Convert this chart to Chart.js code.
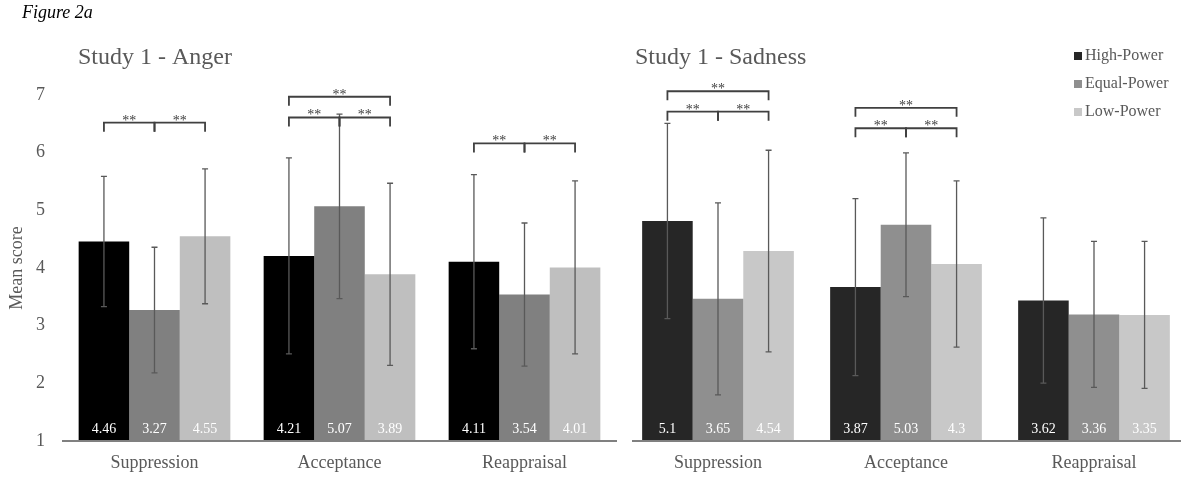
<!DOCTYPE html>
<html>
<head>
<meta charset="utf-8">
<script src="https://cdn.jsdelivr.net/npm/chart.js@4.4.1/dist/chart.umd.min.js"></script>
<style>
  html, body { margin: 0; padding: 0; background: #fff; overflow: hidden; }
  #wrap { position: relative; width: 1181px; height: 478px; overflow: hidden; }
  canvas { position: absolute; top: 0; }
</style>
</head>
<body>
<div id="wrap">
  <canvas id="anger" width="624" height="478" style="left:0px"></canvas>
  <canvas id="sadness" width="570" height="478" style="left:624px"></canvas>
</div>
<script>
const categorias = ['Suppression', 'Acceptance', 'Reappraisal'];
const grupos = ['High-Power', 'Equal-Power', 'Low-Power'];
const yTicks = [1, 2, 3, 4, 5, 6, 7];

// Study 1 - Anger
const raivaAlto = [4.46, 4.21, 4.11];
const raivaIgual = [3.27, 5.07, 3.54];
const raivaBaixo = [4.55, 3.89, 4.01];
const raivaAltoDp = [1.13, 1.70, 1.51];
const raivaIgualDp = [1.09, 1.60, 1.24];
const raivaBaixoDp = [1.17, 1.58, 1.50];

// Study 1 - Sadness
const tristezaAlto = [5.1, 3.87, 3.62];
const tristezaIgual = [3.65, 5.03, 3.36];
const tristezaBaixo = [4.54, 4.3, 3.35];
const tristezaAltoDp = [1.82, 1.65, 1.54];
const tristezaIgualDp = [1.79, 1.34, 1.36];
const tristezaBaixoDp = [1.88, 1.55, 1.37];

// brackets ** : [categoria, de, ate, nivel]
const raivaSig = [[0, 0, 1, 6.52], [0, 1, 2, 6.52], [1, 0, 1, 6.61], [1, 1, 2, 6.61], [1, 0, 2, 6.97], [2, 0, 1, 6.16], [2, 1, 2, 6.16]];
const tristezaSig = [[0, 0, 1, 7.14], [0, 1, 2, 7.14], [0, 0, 2, 7.52], [1, 0, 1, 6.83], [1, 1, 2, 6.83], [1, 0, 2, 7.21]];

const serif = "'Liberation Serif', 'Times New Roman', serif";
const cinza = '#595959';

const decoracao = {
  id: 'decoracao',
  afterDatasetsDraw(chart, args, opts) {
    const ctx = chart.ctx;
    const y = chart.scales.y;
    const area = chart.chartArea;
    const zero = y.getPixelForValue(y.min);
    ctx.save();

    // eixo x
    ctx.strokeStyle = '#808080';
    ctx.lineWidth = 2;
    ctx.beginPath();
    ctx.moveTo(area.left + opts.inicioEixo, zero);
    ctx.lineTo(area.right, zero);
    ctx.stroke();

    // barras de erro e valores
    chart.data.datasets.forEach((ds, i) => {
      const meta = chart.getDatasetMeta(i);
      meta.data.forEach((barra, j) => {
        const v = ds.data[j];
        const dp = ds.dp[j];
        const topo = y.getPixelForValue(v + dp);
        const base = y.getPixelForValue(v - dp);
        ctx.strokeStyle = cinza;
        ctx.lineWidth = 1.3;
        ctx.beginPath();
        ctx.moveTo(barra.x, topo);
        ctx.lineTo(barra.x, base);
        ctx.moveTo(barra.x - 3, topo);
        ctx.lineTo(barra.x + 3, topo);
        ctx.moveTo(barra.x - 3, base);
        ctx.lineTo(barra.x + 3, base);
        ctx.stroke();

        ctx.fillStyle = '#ffffff';
        ctx.font = '14px ' + serif;
        ctx.textAlign = 'center';
        ctx.textBaseline = 'middle';
        ctx.fillText(String(v), barra.x, zero - 12);
      });
    });

    // significancia
    opts.sig.forEach(([c, a, b, nivel]) => {
      const xa = chart.getDatasetMeta(a).data[c].x;
      const xb = chart.getDatasetMeta(b).data[c].x;
      const py = y.getPixelForValue(nivel);
      ctx.strokeStyle = '#404040';
      ctx.lineWidth = 1.8;
      ctx.beginPath();
      ctx.moveTo(xa, py + 9);
      ctx.lineTo(xa, py);
      ctx.lineTo(xb, py);
      ctx.lineTo(xb, py + 9);
      ctx.stroke();
      ctx.fillStyle = '#404040';
      ctx.font = '14px ' + serif;
      ctx.textAlign = 'center';
      ctx.textBaseline = 'alphabetic';
      ctx.fillText('**', (xa + xb) / 2, py + 2);
    });

    // titulo
    ctx.fillStyle = cinza;
    ctx.font = '24px ' + serif;
    ctx.textAlign = 'left';
    ctx.textBaseline = 'alphabetic';
    ctx.fillText(opts.titulo, opts.tituloX, 64);

    if (opts.figura) {
      ctx.fillStyle = '#000000';
      ctx.font = 'italic 18px ' + serif;
      ctx.fillText(opts.figura, 22, 18);
    }

    // legenda
    if (opts.legenda) {
      ctx.font = '16px ' + serif;
      ctx.textBaseline = 'middle';
      chart.data.datasets.forEach((ds, i) => {
        const ly = 56 + i * 28;
        ctx.fillStyle = ds.backgroundColor;
        ctx.fillRect(opts.legendaX, ly - 4, 8, 8);
        ctx.fillStyle = cinza;
        ctx.fillText(ds.label, opts.legendaX + 11, ly);
      });
    }
    ctx.restore();
  }
};

function criarGrafico(id, series, dps, cores, maxY, mostrarY, catPct, extra) {
  return new Chart(document.getElementById(id), {
    type: 'bar',
    data: {
      labels: categorias,
      datasets: grupos.map((g, i) => ({
        label: g,
        data: series[i],
        dp: dps[i],
        backgroundColor: cores[i],
        borderWidth: 0,
        categoryPercentage: catPct,
        barPercentage: 1.0
      }))
    },
    options: {
      responsive: false,
      animation: false,
      devicePixelRatio: 1,
      layout: { padding: { left: 0, right: extra.direita, top: 95, bottom: 0 } },
      plugins: {
        legend: { display: false },
        title: { display: false },
        tooltip: { enabled: false },
        decoracao: extra
      },
      scales: {
        x: {
          grid: { display: false, drawTicks: false },
          border: { display: false },
          ticks: { color: cinza, padding: 11, font: { family: serif, size: 18 } },
          afterFit: (s) => { s.height = 37; }
        },
        y: {
          display: mostrarY,
          min: 1,
          max: maxY,
          afterBuildTicks: (s) => { s.ticks = yTicks.map(v => ({ value: v })); },
          grid: { display: false, drawTicks: false },
          border: { display: false },
          ticks: { color: cinza, padding: 17, font: { family: serif, size: 18 } },
          title: { display: true, text: 'Mean score', color: cinza, padding: { top: 6, bottom: 0 }, font: { family: serif, size: 18 } },
          afterFit: (s) => { s.width = mostrarY ? 62 : 0; }
        }
      }
    },
    plugins: [decoracao]
  });
}

criarGrafico('anger',
  [raivaAlto, raivaIgual, raivaBaixo],
  [raivaAltoDp, raivaIgualDp, raivaBaixoDp],
  ['#000000', '#808080', '#bfbfbf'],
  7, true, 0.82,
  { direita: 7, inicioEixo: 0, sig: raivaSig, titulo: 'Study 1 - Anger', tituloX: 78, figura: 'Figure 2a' });

criarGrafico('sadness',
  [tristezaAlto, tristezaIgual, tristezaBaixo],
  [tristezaAltoDp, tristezaIgualDp, tristezaBaixoDp],
  ['#262626', '#8f8f8f', '#c8c8c8'],
  7.45, false, 0.807,
  { direita: 6, inicioEixo: 8, sig: tristezaSig, titulo: 'Study 1 - Sadness', tituloX: 11, legenda: true, legendaX: 450 });
</script>
</body>
</html>
